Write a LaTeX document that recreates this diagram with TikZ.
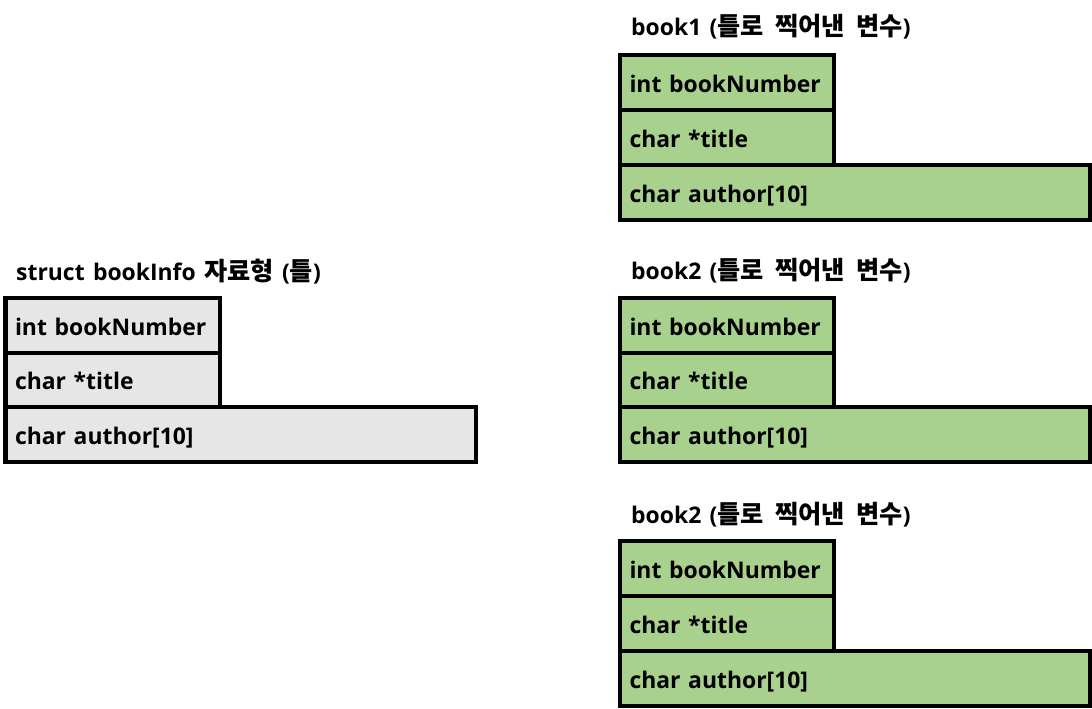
\documentclass[tikz,border=0pt]{standalone}
\usepackage{fontspec}
\setmainfont{Open Sans}[WordSpace=1.4]
\newfontfamily\kr{Noto Sans CJK KR}[Scale=1.1,WordSpace=2.0]
\definecolor{tmplfill}{HTML}{E6E6E6}
\definecolor{instfill}{HTML}{A9D18E}
\tikzset{
  cell/.style={draw=black, line width=4bp, outer sep=0pt, anchor=north west,
    inner xsep=9.5bp, inner ysep=0pt, text height=21.5bp, text depth=2bp,
    align=left, font=\fontsize{23}{27}\selectfont\bfseries},
  shortcell/.style={cell, text width=195bp},
  longcell/.style={cell, text width=451bp},
  tmpl/.style={fill=tmplfill},
  inst/.style={fill=instfill},
  caption/.style={anchor=base west, inner sep=0pt, font=\fontsize{23}{27}\selectfont\bfseries}
}
\begin{document}
\begin{tikzpicture}[x=1bp,y=-1bp]
\useasboundingbox (0,0) rectangle (1092,709);
% template
\node[caption] (tcap) at (16,280) {struct bookInfo {\kr 자료형} ({\kr 틀})};
\node[shortcell,tmpl,minimum height=54.5bp] (t1) at (5.5,298) {int bookNumber};
\node[shortcell,tmpl,minimum height=54.5bp] (t2) at (t1.south west) {char *title};
\node[longcell,tmpl,minimum height=54.5bp] (t3) at (t2.south west) {char author[10]};
% book1
\node[caption] (acap) at (631,36) {book1 ({\kr 틀로 찍어낸 변수})};
\node[shortcell,inst,minimum height=55bp] (a1) at (620,55) {int bookNumber};
\node[shortcell,inst,minimum height=55bp] (a2) at (a1.south west) {char *title};
\node[longcell,inst,minimum height=55bp] (a3) at (a2.south west) {char author[10]};
% book2
\node[caption] (bcap) at (631,279) {book2 ({\kr 틀로 찍어낸 변수})};
\node[shortcell,inst,minimum height=54.5bp] (b1) at (620,298) {int bookNumber};
\node[shortcell,inst,minimum height=54.5bp] (b2) at (b1.south west) {char *title};
\node[longcell,inst,minimum height=54.5bp] (b3) at (b2.south west) {char author[10]};
% book2 (second)
\node[caption] (ccap) at (631,523) {book2 ({\kr 틀로 찍어낸 변수})};
\node[shortcell,inst,minimum height=55bp] (c1) at (620,541) {int bookNumber};
\node[shortcell,inst,minimum height=55bp] (c2) at (c1.south west) {char *title};
\node[longcell,inst,minimum height=55bp] (c3) at (c2.south west) {char author[10]};
\end{tikzpicture}
\end{document}
